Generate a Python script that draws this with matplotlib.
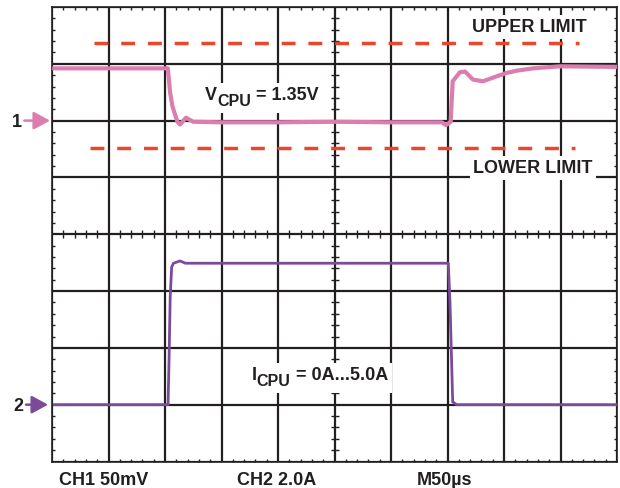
import numpy as np
import matplotlib
matplotlib.use("Agg")
import matplotlib.pyplot as plt
from matplotlib.patches import Rectangle
from matplotlib.transforms import Bbox, IdentityTransform

# ---------------- data ----------------
# time in microseconds (50 us / div, 10 div)
ch1_t = [2, 102.5, 104.5, 106.5, 109, 111, 113.3, 118.6, 125, 150, 200, 250, 300, 345,
         348.7, 352.8, 354.6, 361, 365.5, 372.6, 381.4, 393.5, 402.4, 411.5, 425.7, 449.6, 500]
# CH1: deviation from 1.35 V in mV (50 mV / div)
ch1_mv = [46, 46, 25, 13, 5, -1, -3.5, 2.6, -1, -1.5, -1.5, -1, -1.5, -1.5,
          -4, -1, 34.6, 42.6, 43.2, 36.1, 34.6, 39, 42, 44, 46, 47.8, 47.3]

ch2_t = [2, 102.7, 103.6, 104.6, 105.9, 107.5, 113.3, 118, 350.7, 352.2, 354.6, 358, 500]
# CH2: current in A (2 A / div)
ch2_a = [0, 0, 1.6, 3.8, 4.85, 4.98, 5.06, 4.98, 4.98, 3.6, 0.1, 0, 0]

upper_limit_mv = 68
lower_limit_mv = -24
upper_span = [37.4, 466.4]
lower_span = [33.6, 462.8]

ch1_ref_div = 2      # CH1 ground marker position (divisions)
ch2_ref_div = -3     # CH2 ground marker position (divisions)
ch1_scale = 50.0     # mV/div
ch2_scale = 2.0      # A/div

bottom_labels = ["CH1 50mV", "CH2 2.0A", "M50\u00b5s"]

# ---------------- style ----------------
INK = "#231f20"
PINK = "#db7eae"
PURPLE = "#7b4a9b"
RED = "#e8472b"
FONT = "Liberation Sans"
plt.rcParams["font.family"] = [FONT, "DejaVu Sans"]

fig = plt.figure(figsize=(6.2, 4.88), dpi=100)
ax = fig.add_axes([52 / 620, 1 - 461.5 / 488, 565 / 620, 454.5 / 488])
ax.set_xlim(0, 500)
ax.set_ylim(-4, 4)

ax.set_xticks(np.arange(0, 501, 50))
ax.set_yticks(np.arange(-4, 5, 1))
ax.set_xticks(np.arange(0, 501, 10), minor=True)
ax.set_yticks(np.arange(-4, 4.01, 0.2), minor=True)
ax.tick_params(which="major", length=0, labelbottom=False, labelleft=False)
ax.tick_params(which="minor", direction="in", length=2.5, width=1, color=INK,
               top=True, right=True, bottom=True, left=True)
ax.set_axisbelow(True)
ax.grid(which="major", color=INK, lw=1.6)
for s in ax.spines.values():
    s.set_color(INK)
    s.set_linewidth(1.2)

# center line ticks
mx = [v for v in np.arange(0, 501, 10) if v % 50 != 0]
my = [v for v in np.round(np.arange(-4, 4.01, 0.2), 3) if abs(v - round(v)) > 1e-6]
ax.plot(mx, [0] * len(mx), ls="none", marker="|", ms=6, mew=1, color=INK, zorder=1)
ax.plot([250] * len(my), my, ls="none", marker="_", ms=6, mew=1, color=INK, zorder=1)

# limit lines
ax.plot(upper_span, [ch1_ref_div + upper_limit_mv / ch1_scale] * 2, color=RED, lw=2.5,
        dashes=(4, 3.7), zorder=3)
ax.plot(lower_span, [ch1_ref_div + lower_limit_mv / ch1_scale] * 2, color=RED, lw=2.5,
        dashes=(4, 3.7), zorder=3)

# traces
ax.plot(ch1_t, [ch1_ref_div + v / ch1_scale for v in ch1_mv], color=PINK, lw=3.0,
        solid_joinstyle="round", zorder=4)
ax.plot(ch2_t, [ch2_ref_div + v / ch2_scale for v in ch2_a], color=PURPLE, lw=2.0,
        solid_joinstyle="round", zorder=4)

box = dict(facecolor="white", edgecolor="none", pad=2.5)
ax.text(371.4, 3.565, "UPPER LIMIT", fontsize=13, fontweight="bold", color=INK,
        ha="left", va="baseline", bbox=box, zorder=3)
ax.text(372.6, 1.08, "LOWER LIMIT", fontsize=13, fontweight="bold", color=INK,
        ha="left", va="baseline", bbox=box, zorder=3)

label_groups = []


def sub_label(x, y, main, sub, rest):
    t1 = ax.text(x, y, main, fontsize=13, fontweight="bold", color=INK, ha="left",
                 va="baseline", zorder=3)
    t2 = ax.annotate(sub, xy=(1, 0), xycoords=(t1, t1), xytext=(0, -3.2),
                     textcoords="offset points", fontsize=11.5, fontweight="bold",
                     color=INK, ha="left", va="bottom", zorder=3)
    t3 = ax.annotate(rest, xy=(1, 0), xycoords=(t2, t1), xytext=(0, 0),
                     textcoords="offset points", fontsize=13, fontweight="bold",
                     color=INK, ha="left", va="bottom", zorder=3)
    label_groups.append([t1, t2, t3])


sub_label(135.4, 2.361, "V", "CPU", " = 1.35V")
sub_label(176.7, -2.573, "I", "CPU", " = 0A...5.0A")

# channel markers
for lab, yref, col, tx, tip in [("1", ch1_ref_div, PINK, -0.053, -0.0035),
                                ("2", ch2_ref_div, PURPLE, -0.050, -0.007)]:
    ax.annotate("", xy=(tip, yref), xycoords=("axes fraction", "data"),
                xytext=(tx + 0.004, yref), textcoords=("axes fraction", "data"),
                arrowprops=dict(arrowstyle="-|>,head_length=0.55,head_width=0.3",
                                color=col, lw=1.8, mutation_scale=18,
                                shrinkA=0, shrinkB=0), annotation_clip=False)
    ax.text(tx, yref, lab, transform=ax.get_yaxis_transform(), fontsize=13,
            fontweight="bold", color=INK, ha="right", va="center_baseline",
            clip_on=False)

# bottom labels
for lab, px in zip(bottom_labels, [59, 237.3, 416.7]):
    fig.text(px / 620, (488 - 484.7) / 488, lab, fontsize=13, fontweight="bold",
             color=INK, ha="left", va="baseline")

# white backgrounds behind the subscripted labels
fig.canvas.draw()
renderer = fig.canvas.get_renderer()
for grp in label_groups:
    bb = Bbox.union([t.get_window_extent(renderer) for t in grp])
    pad = 4
    rect = Rectangle((bb.x0 - pad, bb.y0 - pad), bb.width + 2 * pad, bb.height + 2 * pad,
                     transform=IdentityTransform(), facecolor="white", edgecolor="none",
                     zorder=2.5, clip_on=False)
    ax.add_artist(rect)

fig.savefig("out.png", dpi=100, facecolor="white")
